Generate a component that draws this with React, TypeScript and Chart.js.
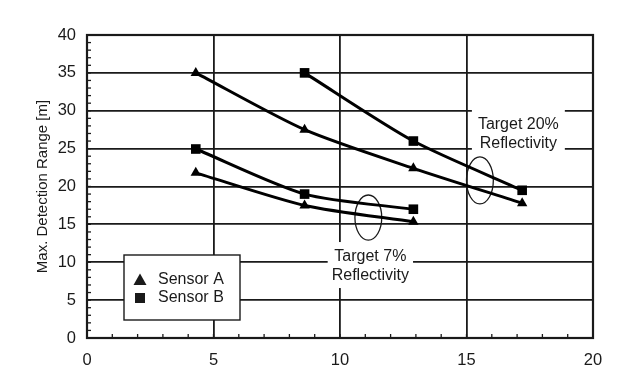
import React, { useEffect, useRef } from "react";
import { Chart, registerables } from "chart.js";

Chart.register(...registerables);

// ---- data ----
const xMin = 0;
const xMax = 20;
const xStep = 5;
const yMin = 0;
const yMax = 40;
const yStep = 5;

const distA20 = [4.3, 8.6, 12.9, 17.2];
const sensorA20 = [35, 27.5, 22.4, 17.8];
const distB20 = [8.6, 12.9, 17.2];
const sensorB20 = [35, 26, 19.5];
const distA7 = [4.3, 8.6, 12.9];
const sensorA7 = [21.8, 17.5, 15.35];
const distB7 = [4.3, 8.6, 12.9];
const sensorB7 = [24.95, 19.0, 17.0];

const legendLabels = ["Sensor A", "Sensor B"];
const yTitle = "Max. Detection Range [m]";

// annotations: [x, y] in data units
const target20Text = ["Target 20%", "Reflectivity"];
const target20At = [17.05, 27.05];
const target7Text = ["Target 7%", "Reflectivity"];
const target7At = [11.2, 9.5];
const ellipse20 = [15.53, 20.8, 0.53, 3.1];
const ellipse7 = [11.12, 15.9, 0.53, 2.98];

const FONT = "'Liberation Sans', Arial, sans-serif";
const INK = "#1a1a1a";

function pts(xs: number[], ys: number[]) {
  return xs.map((x, i) => ({ x, y: ys[i] }));
}

const decorPlugin = {
  id: "decor",
  beforeDatasetsDraw(chart: any) {
    const { ctx, chartArea } = chart;
    const xs = chart.scales.x;
    const ys = chart.scales.y;
    ctx.save();

    // minor ticks
    ctx.strokeStyle = INK;
    ctx.lineWidth = 1.3;
    for (let v = yMin + 1; v < yMax; v++) {
      const py = ys.getPixelForValue(v);
      ctx.beginPath();
      ctx.moveTo(chartArea.left, py);
      ctx.lineTo(chartArea.left + 4, py);
      ctx.stroke();
    }
    for (let v = xMin + 1; v < xMax; v++) {
      const px = xs.getPixelForValue(v);
      ctx.beginPath();
      ctx.moveTo(px, chartArea.bottom);
      ctx.lineTo(px, chartArea.bottom - 4);
      ctx.stroke();
    }

    // text boxes
    ctx.font = `16px ${FONT}`;
    const drawBox = (lines: string[], at: number[], padX: number) => {
      const cx = xs.getPixelForValue(at[0]);
      const cy = ys.getPixelForValue(at[1]);
      const w = Math.max(...lines.map((l) => ctx.measureText(l).width)) + padX * 2;
      const h = 46;
      ctx.fillStyle = "#ffffff";
      ctx.fillRect(cx - w / 2, cy - h / 2 - 1, w, h);
      ctx.fillStyle = INK;
      ctx.textAlign = "center";
      ctx.textBaseline = "middle";
      ctx.fillText(lines[0], cx, cy - 9);
      ctx.fillText(lines[1], cx, cy + 10);
    };
    drawBox(target20Text, target20At, 6);
    drawBox(target7Text, target7At, 4);

    // ellipses
    const drawEllipse = (e: number[]) => {
      const cx = xs.getPixelForValue(e[0]);
      const cy = ys.getPixelForValue(e[1]);
      const rx = Math.abs(xs.getPixelForValue(e[0] + e[2]) - cx);
      const ry = Math.abs(ys.getPixelForValue(e[1] + e[3]) - cy);
      ctx.beginPath();
      ctx.ellipse(cx, cy, rx, ry, 0, 0, Math.PI * 2);
      ctx.strokeStyle = INK;
      ctx.lineWidth = 1.3;
      ctx.stroke();
    };
    drawEllipse(ellipse20);
    drawEllipse(ellipse7);

    // legend box
    const lx = chartArea.left + 37;
    const ly = chartArea.bottom - 83;
    const lw = 116;
    const lh = 65;
    ctx.fillStyle = "#ffffff";
    ctx.fillRect(lx, ly, lw, lh);
    ctx.strokeStyle = INK;
    ctx.lineWidth = 1.4;
    ctx.strokeRect(lx, ly, lw, lh);
    ctx.font = `16px ${FONT}`;
    ctx.textAlign = "left";
    ctx.textBaseline = "middle";
    ctx.fillStyle = INK;
    const rowY = [ly + 25, ly + 43];
    // triangle
    const tx = lx + 16;
    ctx.beginPath();
    ctx.moveTo(tx, rowY[0] - 6.5);
    ctx.lineTo(tx + 6.5, rowY[0] + 5);
    ctx.lineTo(tx - 6.5, rowY[0] + 5);
    ctx.closePath();
    ctx.fill();
    ctx.fillRect(tx - 5, rowY[1] - 5, 10, 10);
    ctx.fillText(legendLabels[0], lx + 34, rowY[0]);
    ctx.fillText(legendLabels[1], lx + 34, rowY[1]);

    ctx.restore();
  },
};

export default function App() {
  const ref = useRef<HTMLCanvasElement | null>(null);
  useEffect(() => {
    document.body.style.margin = "0";
    const common = {
      showLine: true,
      borderColor: "#000",
      backgroundColor: "#000",
      borderWidth: 3,
      pointBorderWidth: 0,
      tension: 0.25,
    };
    const tri = { pointStyle: "triangle", pointRadius: 6 };
    const sq = { pointStyle: "rect", pointRadius: 6.8 };
    const chart = new Chart(ref.current!, {
      type: "scatter",
      data: {
        datasets: [
          { ...common, ...tri, label: "A20", data: pts(distA20, sensorA20) },
          { ...common, ...sq, label: "B20", data: pts(distB20, sensorB20) },
          { ...common, ...tri, label: "A7", data: pts(distA7, sensorA7) },
          { ...common, ...sq, label: "B7", data: pts(distB7, sensorB7) },
        ] as any,
      },
      options: {
        animation: false,
        responsive: false,
        layout: { padding: { left: 30, top: 35, right: 47, bottom: 0 } },
        plugins: { legend: { display: false }, tooltip: { enabled: false } },
        scales: {
          x: {
            type: "linear",
            min: xMin,
            max: xMax,
            ticks: { stepSize: xStep, padding: 13, color: INK, font: { family: FONT, size: 16.5 } },
            grid: { color: INK, lineWidth: 1.8, drawTicks: false },
            border: { color: INK, width: 2 },
            afterFit: (s: any) => { s.height = 33; },
          },
          y: {
            type: "linear",
            min: yMin,
            max: yMax,
            ticks: { stepSize: yStep, padding: 11, color: INK, font: { family: FONT, size: 16.5 } },
            grid: { color: INK, lineWidth: 1.8, drawTicks: false },
            border: { color: INK, width: 2 },
            title: { display: true, text: yTitle, color: INK, font: { family: FONT, size: 15 }, padding: { top: 4, bottom: 4 } },
            afterFit: (s: any) => { s.width = 57; },
          },
        },
      } as any,
      plugins: [decorPlugin, {
        id: "frame",
        afterDraw(chart: any) {
          const { ctx, chartArea: a } = chart;
          ctx.save();
          ctx.strokeStyle = INK;
          ctx.lineWidth = 2.2;
          ctx.strokeRect(a.left, a.top, a.right - a.left, a.bottom - a.top);
          ctx.restore();
        },
      }],
    });
    return () => chart.destroy();
  }, []);
  return (
    <div style={{ position: "absolute", left: 0, top: 0, width: 640, height: 371, background: "#fff" }}>
      <canvas ref={ref} width={640} height={371} />
    </div>
  );
}
